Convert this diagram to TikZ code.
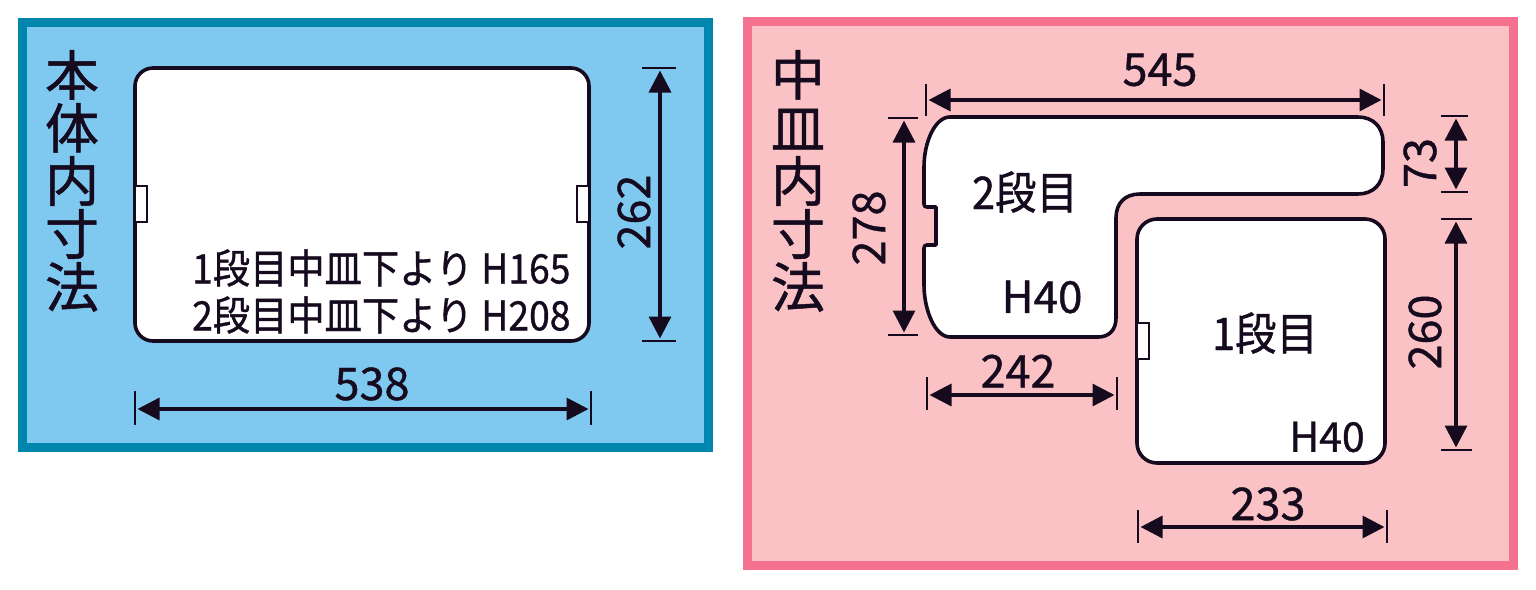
\documentclass[tikz,border=0pt]{standalone}
\usepackage{fontspec}
\setmainfont{Noto Sans CJK JP}[FakeBold=0.9]
\newfontfamily\narrowf[FakeStretch=0.92,FakeBold=0.9]{Noto Sans CJK JP}
\usetikzlibrary{arrows.meta}
\definecolor{ink}{HTML}{160A1E}
\definecolor{bluefill}{HTML}{7FC9F1}
\definecolor{blueline}{HTML}{0085AD}
\definecolor{pinkfill}{HTML}{FBC2C6}
\definecolor{pinkline}{HTML}{F4718F}
\tikzset{
  panelblue/.style={draw=blueline,fill=bluefill,line width=9pt},
  panelpink/.style={draw=pinkline,fill=pinkfill,line width=9pt},
  tray/.style={draw=ink,fill=white,line width=3.6pt,line join=round},
  tab/.style={draw=ink,fill=white,line width=1.8pt},
  dimline/.style={draw=ink,line width=3.4pt,{Triangle[length=22pt,width=22pt]}-{Triangle[length=22pt,width=22pt]},shorten <=2.5pt,shorten >=2.5pt},
  tick/.style={draw=ink,line width=2.4pt},
  num/.style={text=ink,inner sep=0pt,font=\fontsize{45}{45}\selectfont},
  label/.style={text=ink,inner sep=0pt,font=\narrowf\fontsize{40.5}{47}\selectfont},
  tier/.style={text=ink,inner sep=0pt,font=\narrowf\fontsize{45}{47}\selectfont},
  vtitle/.style={text=ink,inner sep=0pt,align=center,font=\fontsize{54}{53}\selectfont},
}
\begin{document}
\begin{tikzpicture}[x=1pt,y=-1pt]
\useasboundingbox (0,0) rectangle (1536,589);
\fill[white] (0,0) rectangle (1536,589);
% panels
\draw[panelblue] (22.5,22.5) rectangle (708.5,447.5);
\draw[panelpink] (747.5,21.5) rectangle (1513.5,565.5);
% left tray
\draw[tray,rounded corners=18pt] (135,68) rectangle (589,341);
\draw[tab] (135,186) rectangle (147,222);
\draw[tab] (577,186) rectangle (589,222);
% L-shaped tray (2nd)
\draw[tray] (950,117) -- (1358,117) .. controls (1373,117) and (1383,127) .. (1383,142)
  -- (1383,169) .. controls (1383,184) and (1373,194) .. (1358,194)
  -- (1140,194) .. controls (1125,194) and (1116,203) .. (1116,218)
  -- (1116,318) .. controls (1116,330) and (1109,337) .. (1098,337)
  -- (950,337) .. controls (935,337) and (924,310) .. (924,285)
  -- (924,248) .. controls (924,246) and (925,245) .. (927,245) -- (936,245) -- (936,207) -- (927,207)
  .. controls (925,207) and (924,206) .. (924,204)
  -- (924,167) .. controls (924,142) and (935,117) .. (950,117) -- cycle;
% lower tray (1st)
\draw[tray,rounded corners=20pt] (1137,219) rectangle (1385,463);
\draw[tab] (1137,323) rectangle (1149,359);
% dimension anchors
\coordinate (a538) at (135,409); \coordinate (b538) at (591,409);
\coordinate (a262) at (660,68);  \coordinate (b262) at (660,341);
\coordinate (a545) at (926,100); \coordinate (b545) at (1384,100);
\coordinate (a278) at (904,118); \coordinate (b278) at (904,335);
\coordinate (a73) at (1456,116); \coordinate (b73) at (1456,192);
\coordinate (a260) at (1456,219);\coordinate (b260) at (1456,450);
\coordinate (a242) at (927,395); \coordinate (b242) at (1117,395);
\coordinate (a233) at (1138,527);\coordinate (b233) at (1387,527);
% ticks
\draw[tick] (135,391) -- (135,425); \draw[tick] (591,391) -- (591,425);
\draw[tick] (642,68) -- (676,68);   \draw[tick] (642,341) -- (676,341);
\draw[tick] (926,84) -- (926,116);  \draw[tick] (1384,84) -- (1384,116);
\draw[tick] (888,118) -- (918,118); \draw[tick] (888,335) -- (918,335);
\draw[tick] (1441,116) -- (1468,116); \draw[tick] (1441,192) -- (1468,192);
\draw[tick] (1441,219) -- (1472,219); \draw[tick] (1441,450) -- (1472,450);
\draw[tick] (927,377) -- (927,410); \draw[tick] (1117,377) -- (1117,410);
\draw[tick] (1138,510) -- (1138,543); \draw[tick] (1387,510) -- (1387,543);
% dimension lines
\draw[dimline] (a538) -- (b538);
\draw[dimline] (a262) -- (b262);
\draw[dimline] (a545) -- (b545);
\draw[dimline] (a278) -- (b278);
\draw[dimline] (a73) -- (b73);
\draw[dimline] (a260) -- (b260);
\draw[dimline] (a242) -- (b242);
\draw[dimline] (a233) -- (b233);
% numbers
\node[num] (t538) at (372,384) {538};
\node[num] (t262) at (634,212) [rotate=90] {262};
\node[num] (t545) at (1160,70) {545};
\node[num] (t278) at (869,228) [rotate=90] {278};
\node[num] (t73) at (1420,163) [rotate=90] {73};
\node[num] (t260) at (1425,332) [rotate=90] {260};
\node[num] (t242) at (1018,371) {242};
\node[num] (t233) at (1268,504) {233};
% labels
\node[vtitle] (title1) at (72,181) {本\\体\\内\\寸\\法};
\node[vtitle] (title2) at (798,181) {中\\皿\\内\\寸\\法};
\node[label,anchor=west] (l1) at (192,268) {1段目中皿下より H165};
\node[label,anchor=west] (l2) at (192,315) {2段目中皿下より H208};
\node[tier] (s2) at (1025,192) {2段目};
\node[num,font=\fontsize{44}{44}\selectfont] (h2) at (1042,297) {H40};
\node[tier] (s1) at (1265,333) {1段目};
\node[num,font=\fontsize{41}{41}\selectfont] (h1) at (1327,437) {H40};
\end{tikzpicture}
\end{document}
